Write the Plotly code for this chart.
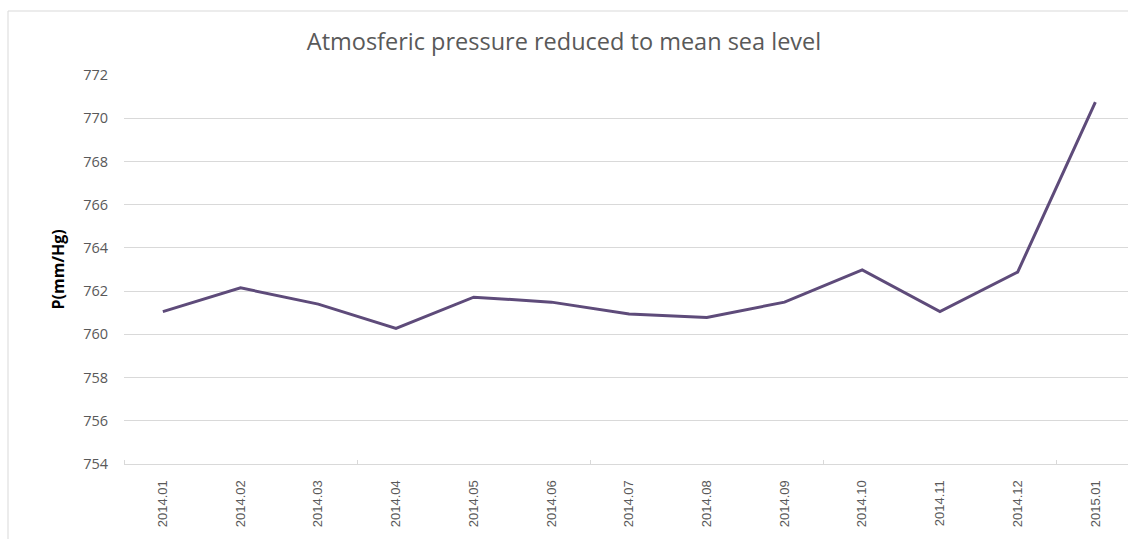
import plotly.graph_objects as go

months = ["2014.01", "2014.02", "2014.03", "2014.04", "2014.05", "2014.06", "2014.07",
          "2014.08", "2014.09", "2014.10", "2014.11", "2014.12", "2015.01"]
pressure = [761.05, 762.15, 761.4, 760.27, 761.72, 761.49, 760.94,
            760.78, 761.49, 762.98, 761.05, 762.88, 770.74]
y_ticks = [754, 756, 758, 760, 762, 764, 766, 768, 770, 772]

W, H = 1128, 539
ML, MR, MT, MB = 124, 0, 75, 75
pw, ph = W - ML - MR, H - MT - MB

xpos = list(range(len(months)))

fig = go.Figure()
fig.add_trace(go.Scatter(
    x=xpos, y=pressure, mode="lines",
    line=dict(color="#5E4B7A", width=3),
    hoverinfo="x+y", showlegend=False,
))

fig.update_layout(
    width=W, height=H,
    margin=dict(l=ML, r=MR, t=MT, b=MB, pad=0),
    paper_bgcolor="white", plot_bgcolor="white",
    title=dict(text="Atmosferic pressure reduced to mean sea level",
               x=0.5, xref="container", xanchor="center",
               y=1 - 42 / H, yref="container", yanchor="middle",
               font=dict(family="Open Sans, sans-serif", size=23.5, color="#595959")),
    xaxis=dict(
        range=[-0.5, 12.42], tickmode="array", tickvals=xpos, ticktext=months,
        tickangle=-90, ticks="", showgrid=False, zeroline=False,
        showline=True, linecolor="#D9D9D9", linewidth=1, ticklabelstandoff=10,
        tickfont=dict(family="Liberation Sans, Arial, sans-serif", size=13, color="#595959"),
        minor=dict(tick0=-0.5, dtick=3, ticks="inside", ticklen=4, tickcolor="#D9D9D9", showgrid=False),
        fixedrange=True,
    ),
    yaxis=dict(
        range=[754, 772], tickmode="array", tickvals=y_ticks,
        showgrid=True, gridcolor="#D9D9D9", gridwidth=1, zeroline=False,
        showline=False, ticks="", ticklabelstandoff=15,
        tickfont=dict(family="Open Sans, sans-serif", size=14.5, color="#595959"),
        fixedrange=True,
    ),
    annotations=[dict(
        text="<b>P(mm/Hg)</b>", textangle=-90,
        xref="paper", yref="paper", x=(57 - ML) / pw, y=0.5,
        xanchor="center", yanchor="middle", showarrow=False,
        font=dict(family="Open Sans, sans-serif", size=16, color="#000000"),
    )],
    shapes=[dict(
        type="rect", xref="paper", yref="paper",
        x0=(8 - ML) / pw, x1=(W + 20 - ML) / pw,
        y0=(H - MB - (H + 20)) / ph, y1=(H - MB - 11) / ph,
        line=dict(color="#D9D9D9", width=1), fillcolor="rgba(0,0,0,0)", layer="below",
    )],
)

fig.write_html("out.html", config={"displayModeBar": False})
